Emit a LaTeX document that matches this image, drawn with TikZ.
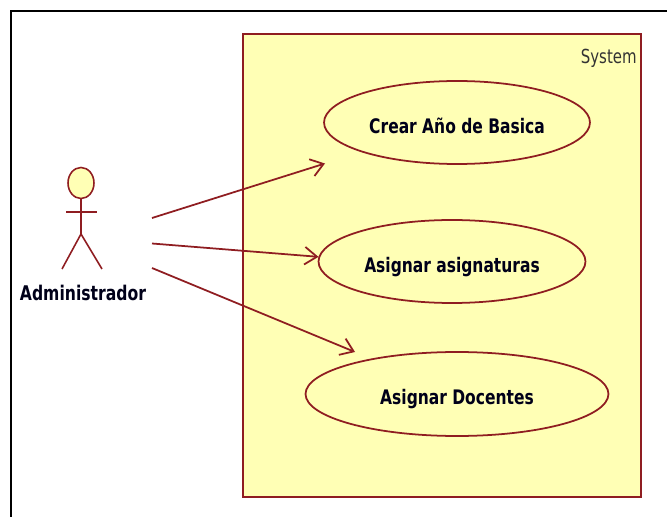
\documentclass[tikz,border=0pt]{standalone}
\usepackage{fontspec}
\setmainfont[FakeStretch=0.86]{DejaVu Sans Condensed}
\usepackage{xcolor}
\usetikzlibrary{shapes,positioning,arrows.meta}
\definecolor{umlred}{HTML}{8F1D21}
\definecolor{umlfill}{HTML}{FFFFB5}
\newcommand{\caselabel}[1]{\raisebox{-6pt}[0pt][0pt]{#1}}
\tikzset{
    usecase/.style={draw=umlred,fill=umlfill,ellipse,line width=1pt,inner sep=0pt,font=\fontsize{11.4}{12}\selectfont\bfseries,text=black!90!blue},
    assoc/.style={draw=umlred,line width=1pt,-{Straight Barb[length=7pt,width=10pt,line width=1pt]}},
    stick/.style={draw=umlred,line width=0.9pt}
}
\begin{document}
\begin{tikzpicture}[x=0.02cm,y=-0.02cm]
        \useasboundingbox (0,0) rectangle (667,517);
        \draw [line width=1pt] (11,517) -- (11,11) -- (667,11);
        \node [draw=umlred,fill=umlfill,line width=1pt,minimum width=7.96cm,minimum height=9.26cm,inner sep=0pt] (system) at (442,265.5) {};
        \node [anchor=north east,inner sep=0pt,font=\fontsize{11}{12}\selectfont,text=black!80] (systemlabel) at (637,49) {System};
        \node [usecase,minimum width=5.32cm,minimum height=1.66cm] (crear) at (457,122.5) {\caselabel{Crear Año de Basica}};
        \node [usecase,minimum width=5.34cm,minimum height=1.66cm] (asignaturas) at (452,261.5) {\caselabel{Asignar asignaturas}};
        \node [usecase,minimum width=6.06cm,minimum height=1.68cm] (docentes) at (457,394) {\caselabel{Asignar Docentes}};
        % actor
        \node [stick,fill=umlfill,ellipse,minimum width=0.52cm,minimum height=0.62cm,inner sep=0pt] (head) at (81,183) {};
        \coordinate (hip) at (81,234);
        \coordinate (armL) at (66,212);
        \coordinate (armR) at (97,212);
        \coordinate (footL) at (62,269);
        \coordinate (footR) at (102,269);
        \draw [stick] (head) -- (hip);
        \draw [stick] (armL) -- (armR);
        \draw [stick] (footL) -- (hip) -- (footR);
        \node [font=\fontsize{11.5}{12}\selectfont\bfseries,inner sep=0pt,text=black!90!blue] (actorname) at (83,293) {Administrador};
        % associations
        \coordinate (from1) at (152,218);
        \coordinate (from2) at (152,243.5);
        \coordinate (from3) at (152,268);
        \coordinate (to1) at (325,163.5);
        \coordinate (to3) at (355,352);
        \draw [assoc] (from1) -- (to1);
        \draw [assoc] (from2) -- (asignaturas.178);
        \draw [assoc] (from3) -- (to3);
    \end{tikzpicture}
\end{document}
